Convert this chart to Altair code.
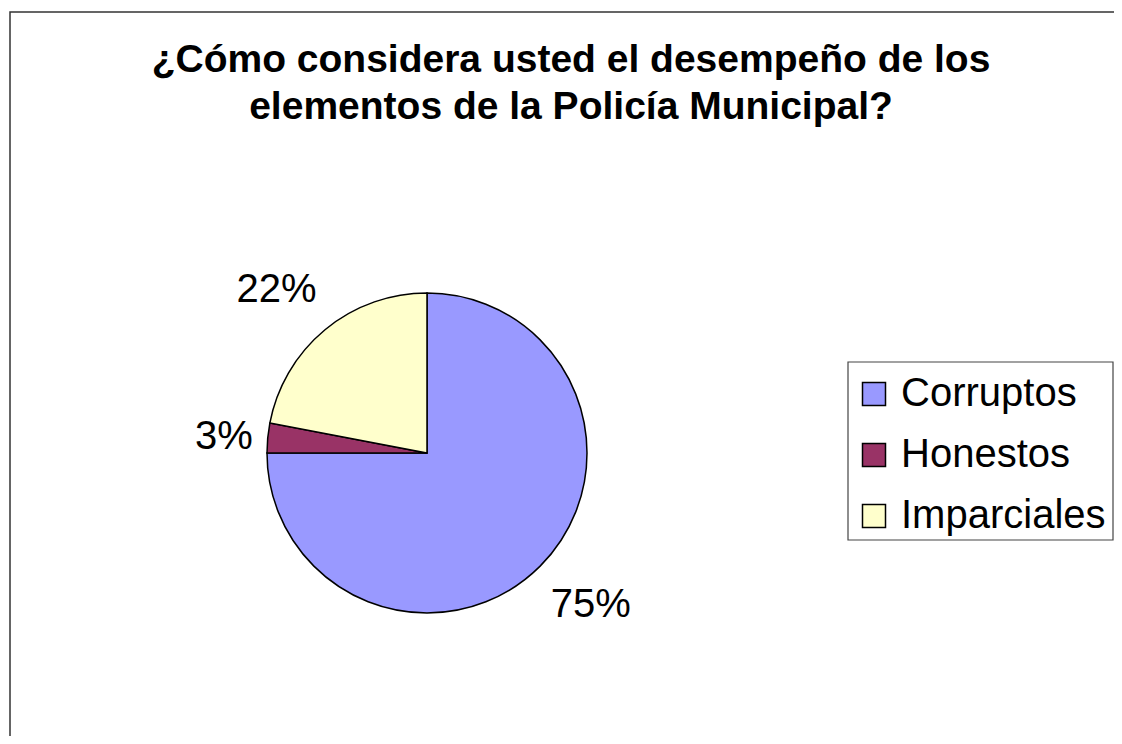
import altair as alt
import pandas as pd

# ---- data ----
categories = ["Corruptos", "Honestos", "Imparciales"]
values = [75, 3, 22]
labels = ["75%", "3%", "22%"]
colors = ["#9999FF", "#993366", "#FFFFCC"]
title_lines = [
    "¿Cómo considera usted el desempeño de los",
    "elementos de la Policía Municipal?",
]

df = pd.DataFrame({
    "categoria": categories,
    "valor": values,
    "etiqueta": labels,
    "orden": list(range(len(categories))),
})
one = pd.DataFrame({"k": [0]})

W, H = 1106, 728
CX, CY, R = 419, 445, 160
FONT = "Liberation Sans"
LFS = 40  # label font size

pie = alt.Chart(df).mark_arc(stroke="black", strokeWidth=1.5, radius=R).encode(
    theta=alt.Theta("valor:Q", stack=True),
    order=alt.Order("orden:Q"),
    x=alt.value(CX),
    y=alt.value(CY),
    color=alt.Color(
        "categoria:N",
        sort=categories,
        scale=alt.Scale(domain=categories, range=colors),
        legend=alt.Legend(
            title=None,
            orient="none",
            legendX=840,
            legendY=360,
            symbolType="square",
            symbolSize=529,
            symbolStrokeColor="black",
            symbolStrokeWidth=1.5,
            symbolOpacity=1,
            symbolOffset=0,
            labelFont=FONT,
            labelFontSize=LFS,
            labelColor="black",
            labelOffset=7,
            labelLimit=400,
            rowPadding=21,
            padding=6,
        ),
    ),
)

# labels outside the slice, Excel-like: box corner touches a point just outside the rim
text = alt.Chart(df).transform_joinaggregate(
    total="sum(valor)"
).transform_window(
    cum="sum(valor)", sort=[alt.SortField("orden")]
).transform_calculate(
    mid="(datum.cum - datum.valor/2) / datum.total * 2 * PI",
    ux="sin(datum.mid)",
    uy="-cos(datum.mid)",
    hw=f"(0.556*(length(datum.etiqueta)-1) + 0.889) * {LFS}/2",
    sx="(datum.ux < 0 ? -1 : 1) * clamp((abs(datum.ux) - 0.2)/0.45, 0, 1)",
    sy="(datum.uy < 0 ? -1 : 1) * clamp((abs(datum.uy) - 0.2)/0.45, 0, 1)",
    lx=f"{CX} + {R + 15}*datum.ux + datum.hw*datum.sx",
    ly=f"{CY} + {R + 15}*datum.uy + 28*datum.sy",
).mark_text(font=FONT, fontSize=LFS, color="black",
            align="center", baseline="middle").encode(
    x=alt.X("lx:Q", scale=None, axis=None),
    y=alt.Y("ly:Q", scale=None, axis=None),
    text="etiqueta:N",
)

title = alt.Chart(one).mark_text(
    text=title_lines, font=FONT, fontSize=39, fontWeight="bold",
    lineHeight=47, align="center", baseline="alphabetic", color="black",
).encode(x=alt.value(563), y=alt.value(64))

frame = alt.Chart(one).mark_rect(
    fillOpacity=0, stroke="#333333", strokeWidth=1.5
).encode(x=alt.value(2), y=alt.value(4), x2=alt.value(1300), y2=alt.value(900))

legend_box = alt.Chart(one).mark_rect(
    fill="white", stroke="#444444", strokeWidth=1.2
).encode(x=alt.value(840), y=alt.value(354), x2=alt.value(1105), y2=alt.value(532))

chart = alt.layer(frame, legend_box, pie, text, title).properties(
    width=W, height=H, autosize=alt.AutoSizeParams(type="none"), padding=0,
    background="white",
).configure_view(stroke=None)

chart.save("out.html", embed_options={"renderer": "svg", "actions": False})
